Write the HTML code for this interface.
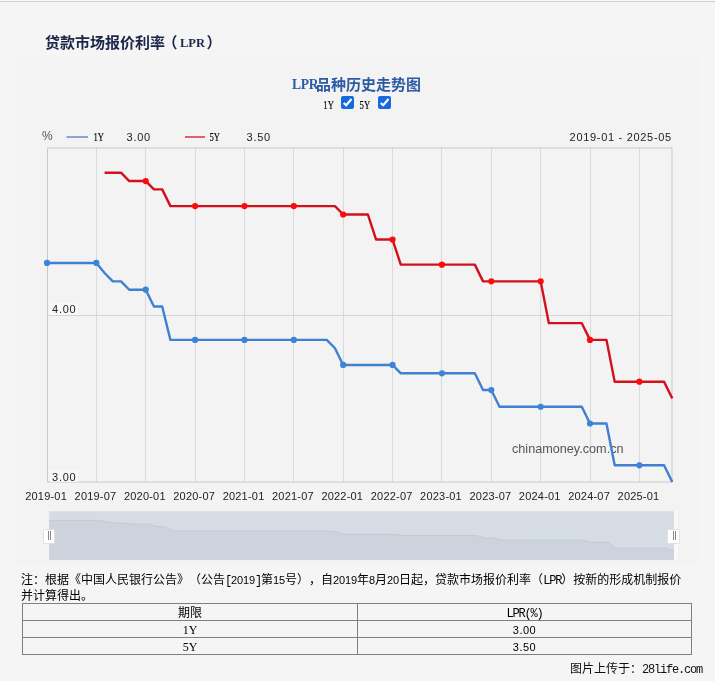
<!DOCTYPE html>
<html><head><meta charset="utf-8"><title>LPR</title>
<style>
html,body{margin:0;padding:0;text-spacing-trim:space-all;}
.d{font-family:"Liberation Sans",sans-serif;font-size:11px;letter-spacing:-0.12px;}
.h{font-family:"Liberation Mono",monospace;font-size:12px;letter-spacing:-1.2px;}
body{width:715px;height:681px;overflow:hidden;background:#f5f5f5;position:relative;font-family:"Liberation Sans","Noto Sans CJK SC",sans-serif;}
.topline{position:absolute;left:0;top:0;width:715px;height:1px;background:#fafafa;border-bottom:1px solid #cfcfcf;}
.panel{position:absolute;left:16px;top:57px;width:682px;height:508px;background:#f3f3f3;}
.title{position:absolute;left:45px;top:31px;font-size:15px;font-weight:bold;color:#1d2548;white-space:nowrap;font-family:"Noto Sans CJK SC",sans-serif;}
.title .l{font-family:"Liberation Serif",serif;font-size:12.5px;vertical-align:1.5px;}
.ctitle{position:absolute;left:292px;top:73px;font-size:15px;font-weight:bold;color:#2c5aa3;white-space:nowrap;font-family:"Noto Sans CJK SC",sans-serif;}
.ctitle .l{font-family:"Liberation Serif",serif;font-size:14px;vertical-align:1px;letter-spacing:-0.3px;display:inline-block;transform:scaleX(0.97);transform-origin:0 0;margin-right:-3.2px;}
.chart{position:absolute;left:0;top:0;}
.m{font-family:"Liberation Sans",sans-serif;}
.wm{font-family:"Liberation Sans",sans-serif;font-size:13.4px;fill:#555;}
.pct{font-family:"Liberation Sans",sans-serif;font-size:12px;fill:#555;}
.cb{position:absolute;top:96px;width:13px;height:13px;border-radius:2px;background:#166ae0;}
.cb svg{position:absolute;left:0;top:0;}
.note{position:absolute;left:21px;top:572px;font-size:12px;line-height:16px;color:#000;white-space:nowrap;font-family:"Liberation Sans","Noto Sans CJK SC",sans-serif;}
.tbl{position:absolute;left:22px;top:603px;width:668px;height:50px;border:1px solid #7f7f7f;}
.hl{position:absolute;left:0;width:668px;height:1px;background:#7f7f7f;}
.vl{position:absolute;top:0;left:334px;width:1px;height:50px;background:#7f7f7f;}
.cell{position:absolute;font-size:12px;color:#000;white-space:nowrap;text-align:center;}
.foot{position:absolute;left:570px;top:659px;font-size:12px;color:#111;white-space:nowrap;font-family:"Noto Sans CJK SC",sans-serif;}
</style></head>
<body>
<div class="topline"></div>
<div class="panel"></div>
<div class="title">贷款市场报价利率<span style="position:relative;left:-2.5px">（</span><span class="l">LPR</span><span style="position:relative;left:1.5px">）</span></div>
<div class="ctitle"><span class="l">LPR</span>品种历史走势图</div>
<svg class="chart" width="715" height="681" viewBox="0 0 715 681">
<g stroke="#d9dadc" stroke-width="1" fill="none"><line x1="96.5" y1="148" x2="96.5" y2="482" /><line x1="145.5" y1="148" x2="145.5" y2="482" /><line x1="195.5" y1="148" x2="195.5" y2="482" /><line x1="244.5" y1="148" x2="244.5" y2="482" /><line x1="293.5" y1="148" x2="293.5" y2="482" /><line x1="343.5" y1="148" x2="343.5" y2="482" /><line x1="392.5" y1="148" x2="392.5" y2="482" /><line x1="441.5" y1="148" x2="441.5" y2="482" /><line x1="491.5" y1="148" x2="491.5" y2="482" /><line x1="540.5" y1="148" x2="540.5" y2="482" /><line x1="590.5" y1="148" x2="590.5" y2="482" /><line x1="639.5" y1="148" x2="639.5" y2="482" /></g>
<g stroke="#d3d5d9" stroke-width="1" fill="none"><line x1="47" y1="315.5" x2="672" y2="315.5" /></g>
<rect x="47.5" y="148" width="624.5" height="334" fill="none" stroke="#c9c9c9" stroke-width="1"/>
<text x="512" y="453" class="wm" textLength="111.5" lengthAdjust="spacingAndGlyphs">chinamoney.com.cn</text>
<rect x="50" y="303" width="28" height="12" fill="#fafafa" opacity="0.7"/>
<text x="52.10" y="313.30" class="m" font-size="11" fill="#222" textLength="23.60" lengthAdjust="spacing">4.00</text>
<rect x="50" y="470" width="28" height="12" fill="#fafafa" opacity="0.7"/>
<text x="52.10" y="480.50" class="m" font-size="11" fill="#222" textLength="23.60" lengthAdjust="spacing">3.00</text>
<path d="M47.00 262.97 L55.23 262.97 L63.45 262.97 L71.68 262.97 L79.91 262.97 L88.14 262.97 L96.36 262.97 L104.59 273.00 L112.82 281.36 L121.05 281.36 L129.27 289.72 L137.50 289.72 L145.73 289.72 L153.96 306.44 L162.19 306.44 L170.41 339.88 L178.64 339.88 L186.87 339.88 L195.09 339.88 L203.32 339.88 L211.55 339.88 L219.78 339.88 L228.00 339.88 L236.23 339.88 L244.46 339.88 L252.69 339.88 L260.91 339.88 L269.14 339.88 L277.37 339.88 L285.60 339.88 L293.82 339.88 L302.05 339.88 L310.28 339.88 L318.51 339.88 L326.73 339.88 L334.96 348.24 L343.19 364.96 L351.42 364.96 L359.64 364.96 L367.87 364.96 L376.10 364.96 L384.33 364.96 L392.55 364.96 L400.78 373.32 L409.01 373.32 L417.24 373.32 L425.46 373.32 L433.69 373.32 L441.92 373.32 L450.15 373.32 L458.37 373.32 L466.60 373.32 L474.83 373.32 L483.06 390.04 L491.28 390.04 L499.51 406.76 L507.74 406.76 L515.97 406.76 L524.19 406.76 L532.42 406.76 L540.65 406.76 L548.88 406.76 L557.11 406.76 L565.33 406.76 L573.56 406.76 L581.79 406.76 L590.01 423.48 L598.24 423.48 L606.47 423.48 L614.70 465.28 L622.92 465.28 L631.15 465.28 L639.38 465.28 L647.61 465.28 L655.83 465.28 L664.06 465.28 L672.29 482.00" fill="none" stroke="#3f80d2" stroke-width="2.4" stroke-linejoin="round"/>
<path d="M104.59 172.68 L112.82 172.68 L121.05 172.68 L129.27 181.04 L137.50 181.04 L145.73 181.04 L153.96 189.40 L162.19 189.40 L170.41 206.12 L178.64 206.12 L186.87 206.12 L195.09 206.12 L203.32 206.12 L211.55 206.12 L219.78 206.12 L228.00 206.12 L236.23 206.12 L244.46 206.12 L252.69 206.12 L260.91 206.12 L269.14 206.12 L277.37 206.12 L285.60 206.12 L293.82 206.12 L302.05 206.12 L310.28 206.12 L318.51 206.12 L326.73 206.12 L334.96 206.12 L343.19 214.48 L351.42 214.48 L359.64 214.48 L367.87 214.48 L376.10 239.56 L384.33 239.56 L392.55 239.56 L400.78 264.64 L409.01 264.64 L417.24 264.64 L425.46 264.64 L433.69 264.64 L441.92 264.64 L450.15 264.64 L458.37 264.64 L466.60 264.64 L474.83 264.64 L483.06 281.36 L491.28 281.36 L499.51 281.36 L507.74 281.36 L515.97 281.36 L524.19 281.36 L532.42 281.36 L540.65 281.36 L548.88 323.16 L557.11 323.16 L565.33 323.16 L573.56 323.16 L581.79 323.16 L590.01 339.88 L598.24 339.88 L606.47 339.88 L614.70 381.68 L622.92 381.68 L631.15 381.68 L639.38 381.68 L647.61 381.68 L655.83 381.68 L664.06 381.68 L672.29 398.40" fill="none" stroke="#d2101e" stroke-width="2.4" stroke-linejoin="round"/>
<circle cx="47.00" cy="262.97" r="3.1" fill="#3b84d8"/><circle cx="96.36" cy="262.97" r="3.1" fill="#3b84d8"/><circle cx="145.73" cy="289.72" r="3.1" fill="#3b84d8"/><circle cx="195.09" cy="339.88" r="3.1" fill="#3b84d8"/><circle cx="244.46" cy="339.88" r="3.1" fill="#3b84d8"/><circle cx="293.82" cy="339.88" r="3.1" fill="#3b84d8"/><circle cx="343.19" cy="364.96" r="3.1" fill="#3b84d8"/><circle cx="392.55" cy="364.96" r="3.1" fill="#3b84d8"/><circle cx="441.92" cy="373.32" r="3.1" fill="#3b84d8"/><circle cx="491.28" cy="390.04" r="3.1" fill="#3b84d8"/><circle cx="540.65" cy="406.76" r="3.1" fill="#3b84d8"/><circle cx="590.01" cy="423.48" r="3.1" fill="#3b84d8"/><circle cx="639.38" cy="465.28" r="3.1" fill="#3b84d8"/>
<circle cx="145.73" cy="181.04" r="3.1" fill="#ff0a0a"/><circle cx="195.09" cy="206.12" r="3.1" fill="#ff0a0a"/><circle cx="244.46" cy="206.12" r="3.1" fill="#ff0a0a"/><circle cx="293.82" cy="206.12" r="3.1" fill="#ff0a0a"/><circle cx="343.19" cy="214.48" r="3.1" fill="#ff0a0a"/><circle cx="392.55" cy="239.56" r="3.1" fill="#ff0a0a"/><circle cx="441.92" cy="264.64" r="3.1" fill="#ff0a0a"/><circle cx="491.28" cy="281.36" r="3.1" fill="#ff0a0a"/><circle cx="540.65" cy="281.36" r="3.1" fill="#ff0a0a"/><circle cx="590.01" cy="339.88" r="3.1" fill="#ff0a0a"/><circle cx="639.38" cy="381.68" r="3.1" fill="#ff0a0a"/>
<text x="25.20" y="500.30" class="m" font-size="11" fill="#222" textLength="41.60" lengthAdjust="spacing">2019-01</text><text x="74.56" y="500.30" class="m" font-size="11" fill="#222" textLength="41.60" lengthAdjust="spacing">2019-07</text><text x="123.93" y="500.30" class="m" font-size="11" fill="#222" textLength="41.60" lengthAdjust="spacing">2020-01</text><text x="173.29" y="500.30" class="m" font-size="11" fill="#222" textLength="41.60" lengthAdjust="spacing">2020-07</text><text x="222.66" y="500.30" class="m" font-size="11" fill="#222" textLength="41.60" lengthAdjust="spacing">2021-01</text><text x="272.03" y="500.30" class="m" font-size="11" fill="#222" textLength="41.60" lengthAdjust="spacing">2021-07</text><text x="321.39" y="500.30" class="m" font-size="11" fill="#222" textLength="41.60" lengthAdjust="spacing">2022-01</text><text x="370.75" y="500.30" class="m" font-size="11" fill="#222" textLength="41.60" lengthAdjust="spacing">2022-07</text><text x="420.12" y="500.30" class="m" font-size="11" fill="#222" textLength="41.60" lengthAdjust="spacing">2023-01</text><text x="469.49" y="500.30" class="m" font-size="11" fill="#222" textLength="41.60" lengthAdjust="spacing">2023-07</text><text x="518.85" y="500.30" class="m" font-size="11" fill="#222" textLength="41.60" lengthAdjust="spacing">2024-01</text><text x="568.22" y="500.30" class="m" font-size="11" fill="#222" textLength="41.60" lengthAdjust="spacing">2024-07</text><text x="617.58" y="500.30" class="m" font-size="11" fill="#222" textLength="41.60" lengthAdjust="spacing">2025-01</text>
<text x="42" y="139.5" class="pct">%</text>
<line x1="66.5" y1="137" x2="88" y2="137" stroke="#8ea4d8" stroke-width="2"/>
<text x="93.50" y="141.00" font-family="Liberation Serif, serif" font-size="11.5" fill="#000" stroke="#000" stroke-width="0.15" textLength="10.6" lengthAdjust="spacingAndGlyphs">1Y</text>
<text x="126.60" y="141.00" class="m" font-size="11" fill="#222" textLength="23.60" lengthAdjust="spacing">3.00</text>
<line x1="185" y1="137" x2="205" y2="137" stroke="#e0606e" stroke-width="2"/>
<text x="209.50" y="141.00" font-family="Liberation Serif, serif" font-size="11.5" fill="#000" stroke="#000" stroke-width="0.15" textLength="10.6" lengthAdjust="spacingAndGlyphs">5Y</text>
<text x="246.60" y="141.00" class="m" font-size="11" fill="#222" textLength="23.60" lengthAdjust="spacing">3.50</text>
<text x="569.60" y="141.00" class="m" font-size="11" fill="#222" textLength="101.60" lengthAdjust="spacing">2019-01 - 2025-05</text>
<rect x="49.2" y="511.3" width="624.7" height="48.7" fill="#d6dce4"/>
<path d="M49.20 520.40 L57.42 520.40 L65.64 520.40 L73.86 520.40 L82.08 520.40 L90.30 520.40 L98.52 520.40 L106.74 521.78 L114.96 522.93 L123.18 522.93 L131.40 524.08 L139.62 524.08 L147.84 524.08 L156.06 526.38 L164.28 526.38 L172.50 530.98 L180.72 530.98 L188.94 530.98 L197.16 530.98 L205.38 530.98 L213.59 530.98 L221.81 530.98 L230.03 530.98 L238.25 530.98 L246.47 530.98 L254.69 530.98 L262.91 530.98 L271.13 530.98 L279.35 530.98 L287.57 530.98 L295.79 530.98 L304.01 530.98 L312.23 530.98 L320.45 530.98 L328.67 530.98 L336.89 532.13 L345.11 534.43 L353.33 534.43 L361.55 534.43 L369.77 534.43 L377.99 534.43 L386.21 534.43 L394.43 534.43 L402.65 535.58 L410.87 535.58 L419.09 535.58 L427.31 535.58 L435.53 535.58 L443.75 535.58 L451.97 535.58 L460.19 535.58 L468.41 535.58 L476.63 535.58 L484.85 537.88 L493.07 537.88 L501.29 540.18 L509.51 540.18 L517.72 540.18 L525.94 540.18 L534.16 540.18 L542.38 540.18 L550.60 540.18 L558.82 540.18 L567.04 540.18 L575.26 540.18 L583.48 540.18 L591.70 542.48 L599.92 542.48 L608.14 542.48 L616.36 548.23 L624.58 548.23 L632.80 548.23 L641.02 548.23 L649.24 548.23 L657.46 548.23 L665.68 548.23 L673.90 550.53 L673.90 560 L49.20 560 Z" fill="#ccd3dd"/>
<path d="M49.20 520.40 L57.42 520.40 L65.64 520.40 L73.86 520.40 L82.08 520.40 L90.30 520.40 L98.52 520.40 L106.74 521.78 L114.96 522.93 L123.18 522.93 L131.40 524.08 L139.62 524.08 L147.84 524.08 L156.06 526.38 L164.28 526.38 L172.50 530.98 L180.72 530.98 L188.94 530.98 L197.16 530.98 L205.38 530.98 L213.59 530.98 L221.81 530.98 L230.03 530.98 L238.25 530.98 L246.47 530.98 L254.69 530.98 L262.91 530.98 L271.13 530.98 L279.35 530.98 L287.57 530.98 L295.79 530.98 L304.01 530.98 L312.23 530.98 L320.45 530.98 L328.67 530.98 L336.89 532.13 L345.11 534.43 L353.33 534.43 L361.55 534.43 L369.77 534.43 L377.99 534.43 L386.21 534.43 L394.43 534.43 L402.65 535.58 L410.87 535.58 L419.09 535.58 L427.31 535.58 L435.53 535.58 L443.75 535.58 L451.97 535.58 L460.19 535.58 L468.41 535.58 L476.63 535.58 L484.85 537.88 L493.07 537.88 L501.29 540.18 L509.51 540.18 L517.72 540.18 L525.94 540.18 L534.16 540.18 L542.38 540.18 L550.60 540.18 L558.82 540.18 L567.04 540.18 L575.26 540.18 L583.48 540.18 L591.70 542.48 L599.92 542.48 L608.14 542.48 L616.36 548.23 L624.58 548.23 L632.80 548.23 L641.02 548.23 L649.24 548.23 L657.46 548.23 L665.68 548.23 L673.90 550.53" fill="none" stroke="#c3cad5" stroke-width="1"/>
<rect x="674" y="511" width="4" height="49" fill="#f8f8f9"/>
<g>
<rect x="43.5" y="529.5" width="11" height="14" rx="1" fill="#fff" stroke="#e0e0e0"/>
<line x1="48.5" y1="531" x2="48.5" y2="540" stroke="#888"/>
<line x1="50.5" y1="531" x2="50.5" y2="540" stroke="#888"/>
<rect x="667.5" y="529.5" width="12" height="14" rx="1" fill="#fff" stroke="#e0e0e0"/>
<line x1="673.5" y1="531" x2="673.5" y2="540" stroke="#888"/>
<line x1="675.5" y1="531" x2="675.5" y2="540" stroke="#888"/>
</g>
</svg>
<svg style="position:absolute;left:0;top:0" width="715" height="681">
<text x="323.30" y="109.00" font-family="Liberation Serif, serif" font-size="11.5" fill="#000" stroke="#000" stroke-width="0.15" textLength="10.6" lengthAdjust="spacingAndGlyphs">1Y</text>
<text x="359.60" y="109.00" font-family="Liberation Serif, serif" font-size="11.5" fill="#000" stroke="#000" stroke-width="0.15" textLength="10.6" lengthAdjust="spacingAndGlyphs">5Y</text>
</svg>
<div class="cb" style="left:341px"><svg width="13" height="13"><path d="M2.7 6.9 L5.2 9.3 L10.5 3.0" fill="none" stroke="#fff" stroke-width="2.1"/></svg></div>
<div class="cb" style="left:378px"><svg width="13" height="13"><path d="M2.7 6.9 L5.2 9.3 L10.5 3.0" fill="none" stroke="#fff" stroke-width="2.1"/></svg></div>
<div class="note">注：根据《中国人民银行公告》（公告<span class="h">[</span><span class="d">2019</span><span class="h">]</span>第<span class="d">15</span>号），自<span class="d">2019</span>年<span class="d">8</span>月<span class="d">20</span>日起，贷款市场报价利率（<span class="h">LPR</span>）按新的形成机制报价</div>
<div class="note" style="top:588px">并计算得出。</div>
<div class="tbl">
<div class="hl" style="top:16px"></div>
<div class="hl" style="top:33px"></div>
<div class="vl"></div>
<div class="cell" style="left:0;width:334px;top:1px;line-height:16px">期限</div>
<div class="cell" style="left:335px;width:333px;top:1px;line-height:16px"><span class="h">LPR(%)</span></div>
<div class="cell" style="left:0;width:334px;top:18px;line-height:16px"><span style="font-family:'Liberation Serif',serif">1Y</span></div>
<div class="cell" style="left:335px;width:333px;top:18px;line-height:16px"><span class="d" style="letter-spacing:0.5px">3.00</span></div>
<div class="cell" style="left:0;width:334px;top:35px;line-height:16px"><span style="font-family:'Liberation Serif',serif">5Y</span></div>
<div class="cell" style="left:335px;width:333px;top:35px;line-height:16px"><span class="d" style="letter-spacing:0.5px">3.50</span></div>
</div>
<div class="foot">图片上传于：<span class="h">28life.com</span></div>
</body></html>
